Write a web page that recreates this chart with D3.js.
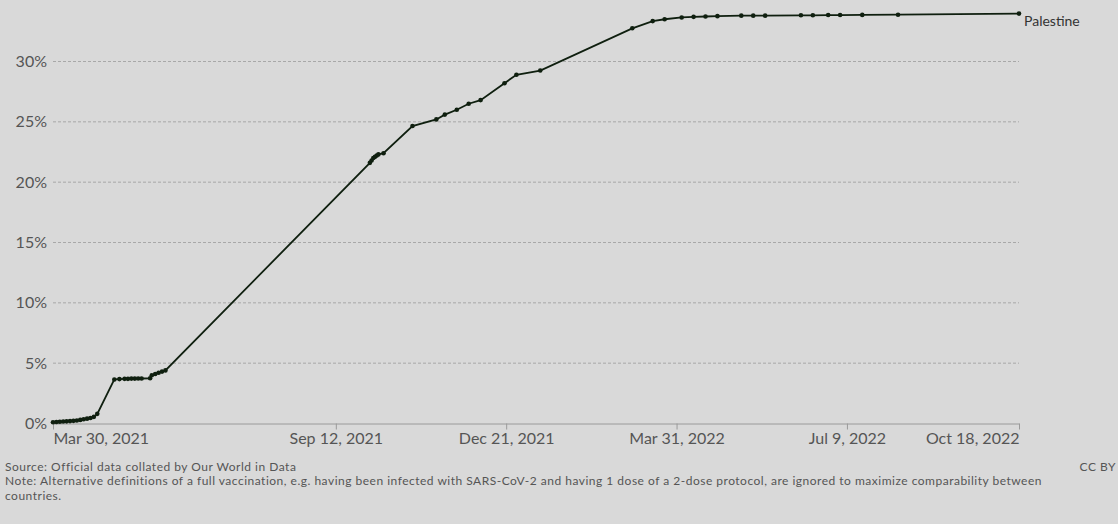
<!DOCTYPE html>
<html>
<head>
<meta charset="utf-8">
<script src="https://cdn.jsdelivr.net/npm/d3@7"></script>
<style>
  body { margin: 0; background: #d9d9d9; }
  svg { display: block; font-family: Lato, "Open Sans", sans-serif; }
</style>
</head>
<body>
<script>
// share of people fully vaccinated, Palestine
const dates = [
  "2021-03-30","2021-04-01","2021-04-03","2021-04-05","2021-04-07","2021-04-09","2021-04-11",
  "2021-04-13","2021-04-15","2021-04-17","2021-04-19","2021-04-21","2021-04-23","2021-04-25",
  "2021-05-05","2021-05-08","2021-05-11","2021-05-13","2021-05-15","2021-05-17","2021-05-19",
  "2021-05-21","2021-05-26","2021-05-27","2021-05-29","2021-05-31","2021-06-02","2021-06-04",
  "2021-10-02","2021-10-03","2021-10-04","2021-10-05","2021-10-06","2021-10-07","2021-10-10",
  "2021-10-27","2021-11-10","2021-11-15","2021-11-22","2021-11-29","2021-12-06","2021-12-20",
  "2021-12-27","2022-01-10","2022-03-05","2022-03-17","2022-03-24","2022-04-03","2022-04-10",
  "2022-04-17","2022-04-24","2022-05-08","2022-05-15","2022-05-22","2022-06-12","2022-06-19",
  "2022-06-28","2022-07-05","2022-07-18","2022-08-08","2022-10-18"
];
const values = [
  0.10, 0.12, 0.14, 0.16, 0.18, 0.20, 0.22,
  0.25, 0.30, 0.35, 0.40, 0.45, 0.55, 0.80,
  3.65, 3.68, 3.70, 3.70, 3.72, 3.72, 3.73,
  3.73, 3.75, 4.00, 4.10, 4.20, 4.30, 4.40,
  21.6, 21.8, 22.0, 22.1, 22.2, 22.3, 22.4,
  24.65, 25.2, 25.6, 26.0, 26.5, 26.8, 28.2,
  28.9, 29.25, 32.75, 33.35, 33.5, 33.65, 33.7,
  33.73, 33.76, 33.8, 33.8, 33.8, 33.83, 33.83,
  33.85, 33.85, 33.86, 33.88, 33.97
];
const yTicks = [0, 5, 10, 15, 20, 25, 30];
const xTickDates = ["2021-03-30","2021-09-12","2021-12-21","2022-03-31","2022-07-09","2022-10-18"];
const country = "Palestine";
const sourceText = "Source: Official data collated by Our World in Data";
const noteLines = [
  "Note: Alternative definitions of a full vaccination, e.g. having been infected with SARS-CoV-2 and having 1 dose of a 2-dose protocol, are ignored to maximize comparability between",
  "countries."
];

const w = 1118, h = 524;
const parse = d3.utcParse("%Y-%m-%d");
const data = dates.map((d, i) => ({ date: parse(d), value: values[i] }));

const svg = d3.select("body").append("svg")
  .attr("width", w)
  .attr("height", h);

svg.append("rect").attr("width", w).attr("height", h).attr("fill", "#d9d9d9");

const x = d3.scaleUtc()
  .domain([parse(xTickDates[0]), parse(xTickDates[xTickDates.length - 1])])
  .range([53, 1019]);
const y = d3.scaleLinear().domain([0, 30]).range([423.5, 61.5]);

// grid lines
svg.append("g")
  .selectAll("line")
  .data(yTicks.filter(d => d > 0))
  .join("line")
  .attr("x1", 53).attr("x2", 1019)
  .attr("y1", d => y(d)).attr("y2", d => y(d))
  .attr("stroke", "#a8a8a8")
  .attr("stroke-dasharray", "3,2");

svg.append("g")
  .selectAll("text")
  .data(yTicks)
  .join("text")
  .attr("x", 47)
  .attr("y", d => y(d))
  .attr("dy", "0.35em")
  .attr("text-anchor", "end")
  .attr("font-size", 16)
  .attr("fill", "#555")
  .text(d => d + "%");

// x axis
const xAxis = d3.axisBottom(x)
  .tickValues(xTickDates.map(parse))
  .tickFormat(d3.utcFormat("%b %-d, %Y"))
  .tickSize(6)
  .tickSizeOuter(0);

const gx = svg.append("g")
  .attr("transform", `translate(0,${y(0)})`)
  .call(xAxis);
gx.select(".domain").attr("stroke", "#9a9a9a");
gx.selectAll(".tick line").attr("stroke", "#9a9a9a");
gx.selectAll(".tick text")
  .attr("font-family", "Lato, sans-serif")
  .attr("font-size", 16)
  .attr("fill", "#555")
  .attr("y", 9)
  .attr("text-anchor", (d, i, n) => i === 0 ? "start" : i === n.length - 1 ? "end" : "middle");

// line + points
const line = d3.line().x(d => x(d.date)).y(d => y(d.value));
svg.append("path")
  .datum(data)
  .attr("fill", "none")
  .attr("stroke", "#0f1f0f")
  .attr("stroke-width", 1.8)
  .attr("d", line);

svg.append("g")
  .selectAll("circle")
  .data(data)
  .join("circle")
  .attr("cx", d => x(d.date))
  .attr("cy", d => y(d.value))
  .attr("r", 2.3)
  .attr("fill", "#0f1f0f");

const last = data[data.length - 1];
svg.append("text")
  .attr("x", x(last.date) + 5)
  .attr("y", y(last.value) + 12)
  .attr("font-size", 14)
  .attr("fill", "#333")
  .text(country);

// footer
const foot = svg.append("g")
  .attr("font-size", 12)
  .attr("letter-spacing", 0.5)
  .attr("fill", "#555");
foot.append("text")
  .attr("x", 5).attr("y", 471)
  .text(sourceText);
foot.append("text")
  .attr("x", 1116).attr("y", 471)
  .attr("text-anchor", "end")
  .text("CC BY");
foot.selectAll("text.note")
  .data(noteLines)
  .join("text")
  .attr("class", "note")
  .attr("x", 5)
  .attr("y", (d, i) => 485 + i * 14.5)
  .text(d => d);
</script>
</body>
</html>
